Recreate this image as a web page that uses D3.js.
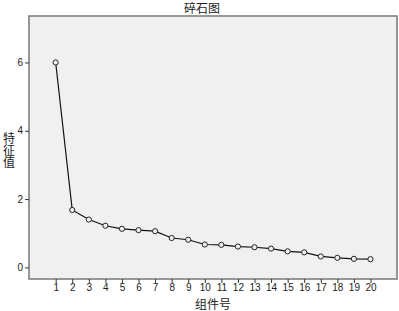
<!DOCTYPE html>
<html>
<head>
<meta charset="utf-8">
<script src="https://cdn.jsdelivr.net/npm/d3@7"></script>
<style>
  body { margin: 0; background: #fff; }
  text { font-family: "Liberation Sans", Arial, sans-serif; }
  .cjk { font-family: "Noto Sans CJK SC", sans-serif; }
</style>
</head>
<body>
<svg id="chart" width="399" height="311"></svg>
<script>
// scree plot data
let components = d3.range(1, 21);
let eigenvalues = [6.0, 1.68, 1.40, 1.22, 1.13, 1.09, 1.06, 0.86, 0.81, 0.67,
                   0.66, 0.61, 0.59, 0.55, 0.47, 0.44, 0.32, 0.28, 0.25, 0.24];
let yTicks = [0, 2, 4, 6];
let title = "碎石图";
let xLabel = "组件号";
let yLabel = "特征值";

let svg = d3.select('#chart');
let plotLeft = 29, plotTop = 16, plotRight = 397, plotBottom = 279;

let x = d3.scaleLinear().domain([-0.61, 21.6]).range([plotLeft, plotRight]);
let y = d3.scaleLinear().domain([-0.34, 7.36]).range([plotBottom, plotTop]);

// plot background
svg.append('rect')
    .attr('x', plotLeft).attr('y', plotTop)
    .attr('width', plotRight - plotLeft).attr('height', plotBottom - plotTop)
    .style('fill', '#f0f0f0');

// frame
svg.append('path')
    .attr('d', `M${plotLeft},${plotBottom}V${plotTop}H${plotRight}V${plotBottom}Z`)
    .style('fill', 'none')
    .style('stroke', '#777')
    .style('stroke-width', 1.5);

// y axis
let gy = svg.append('g')
    .attr('transform', `translate(${plotLeft},0)`)
    .call(d3.axisLeft(y).tickValues(yTicks).tickSize(4).tickPadding(2).tickFormat(d3.format('d')));
gy.select('.domain').remove();
gy.selectAll('text').style('font-size', '10px').style('fill', '#222');
gy.selectAll('line').style('stroke', '#333');

// x axis
let gx = svg.append('g')
    .attr('transform', `translate(0,${plotBottom})`)
    .call(d3.axisBottom(x).tickValues(components).tickSize(4).tickPadding(1).tickFormat(d3.format('d')));
gx.select('.domain').remove();
gx.selectAll('text').style('font-size', '10px').style('fill', '#222');
gx.selectAll('line').style('stroke', '#333');

// line
let line = d3.line()
    .x(function(d, i) { return x(components[i]); })
    .y(function(d) { return y(d); });

svg.append('path')
    .datum(eigenvalues)
    .attr('d', line)
    .style('fill', 'none')
    .style('stroke', '#111')
    .style('stroke-width', 1.2);

svg.append('g').selectAll('circle')
    .data(eigenvalues)
    .enter().append('circle')
    .attr('cx', function(d, i) { return x(components[i]); })
    .attr('cy', function(d) { return y(d); })
    .attr('r', 2.6)
    .style('fill', '#f0f0f0')
    .style('stroke', '#222')
    .style('stroke-width', 1);

// title
svg.append('text')
    .attr('class', 'cjk')
    .attr('x', 202).attr('y', 13)
    .attr('text-anchor', 'middle')
    .style('font-size', '12px')
    .style('fill', '#222')
    .text(title);

// x label
svg.append('text')
    .attr('class', 'cjk')
    .attr('x', 213).attr('y', 309)
    .attr('text-anchor', 'middle')
    .style('font-size', '12px')
    .style('fill', '#222')
    .text(xLabel);

// y label, written vertically
svg.append('text')
    .attr('class', 'cjk')
    .attr('x', 9)
    .attr('y', 150)
    .attr('text-anchor', 'middle')
    .style('writing-mode', 'vertical-rl')
    .style('font-size', '12px')
    .style('fill', '#222')
    .text(yLabel);
</script>
</body>
</html>
